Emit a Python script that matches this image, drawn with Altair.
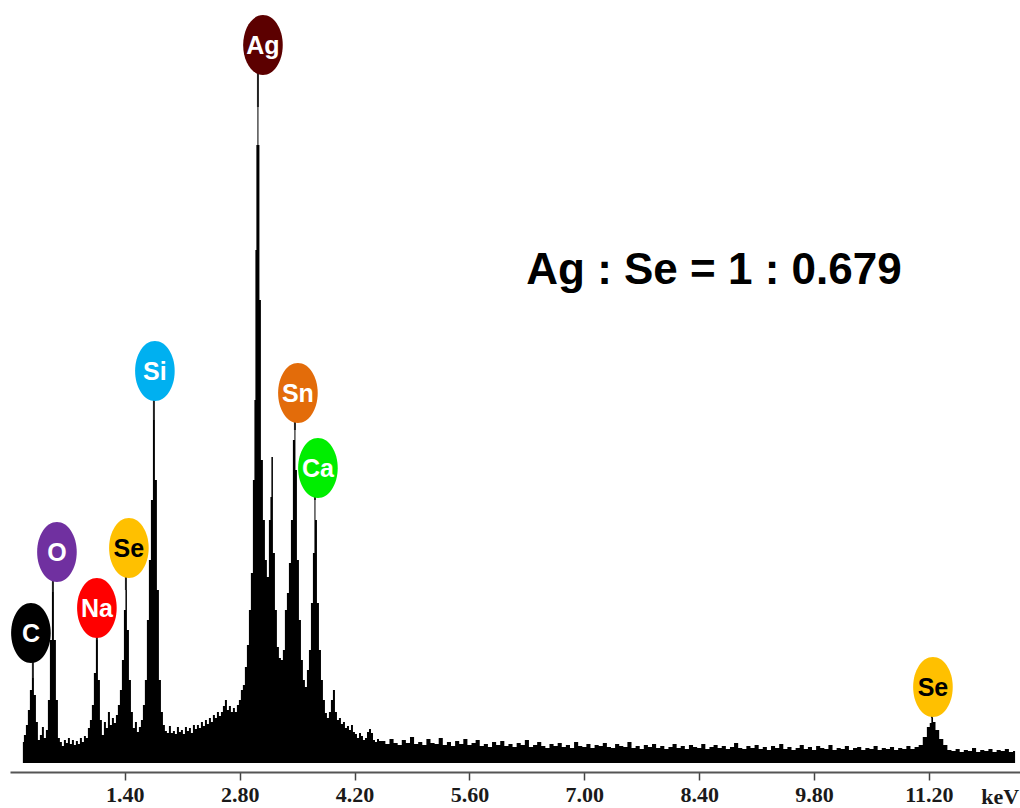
import altair as alt
import pandas as pd

# ---- spectrum: peak region (keV, counts) ----
peak_region_kev = [
    0.157, 0.182, 0.206, 0.230, 0.255, 0.279, 0.304, 0.328, 0.352, 0.377,
    0.401, 0.425, 0.450, 0.474, 0.499, 0.523, 0.547, 0.572, 0.596, 0.620,
    0.645, 0.669, 0.694, 0.718, 0.742, 0.767, 0.791, 0.815, 0.840, 0.864,
    0.889, 0.913, 0.937, 0.962, 0.986, 1.010, 1.035, 1.059, 1.084, 1.108,
    1.132, 1.157, 1.181, 1.206, 1.230, 1.254, 1.279, 1.303, 1.327, 1.352,
    1.376, 1.401, 1.413,
    1.437, 1.462, 1.486, 1.510, 1.535, 1.559, 1.583, 1.608, 1.632, 1.656,
    1.681, 1.705, 1.730, 1.754, 1.778, 1.803, 1.827, 1.852, 1.876, 1.900,
    1.925, 1.949, 1.973, 1.998, 2.022, 2.047, 2.071, 2.095, 2.120, 2.144,
    2.169, 2.193, 2.217, 2.242, 2.266, 2.290, 2.315, 2.339, 2.364, 2.388,
    2.412, 2.437, 2.461, 2.485, 2.510, 2.534, 2.559, 2.583, 2.607, 2.632,
    2.656, 2.680, 2.705, 2.729, 2.753, 2.778, 2.802, 2.826, 2.851, 2.875,
    2.900, 2.924, 2.948, 2.973,
    2.985, 2.997, 3.009, 3.022, 3.034,
    3.046, 3.070, 3.095, 3.119, 3.143, 3.168, 3.180,
    3.192, 3.217, 3.241, 3.265, 3.290, 3.314, 3.338, 3.363, 3.387, 3.412,
    3.436, 3.460, 3.473,
    3.485, 3.509, 3.534, 3.558, 3.582, 3.607, 3.631, 3.656, 3.680, 3.704,
    3.717,
    3.729, 3.753, 3.778, 3.802, 3.826, 3.851, 3.875, 3.899, 3.924, 3.948,
    3.973, 3.997, 4.021, 4.046, 4.070, 4.095, 4.119, 4.144, 4.168, 4.192,
    4.217, 4.241, 4.266, 4.290, 4.314, 4.339, 4.363, 4.388, 4.412, 4.437,
    4.461, 4.485, 4.510,
]
peak_region_counts = [
    21, 28, 38, 53, 73, 85, 68, 41, 23, 28,
    36, 25, 33, 63, 123, 171, 123, 63, 25, 21,
    17, 23, 20, 25, 19, 23, 18, 22, 19, 25,
    21, 27, 25, 35, 43, 58, 90, 123, 83, 43,
    28, 41, 35, 51, 38, 45, 40, 48, 58, 73,
    103, 153, 173,
    133, 83, 51, 35, 41, 31, 36, 43, 58, 83,
    143, 203, 263, 343, 283, 173, 83, 51, 38, 32,
    30, 37, 30, 32, 29, 36, 31, 33, 29, 36,
    32, 35, 30, 38, 34, 38, 35, 41, 37, 43,
    39, 45, 41, 48, 45, 51, 47, 51, 57, 63,
    53, 57, 51, 55, 51, 58, 63, 73, 78, 96,
    118, 153, 190, 283,
    363, 513, 618, 656, 618,
    463, 303, 243, 203, 186, 243, 266,
    306, 210, 153, 116, 105, 103, 113, 153, 170, 200,
    243, 323, 333,
    293, 203, 143, 103, 83, 76, 93, 113, 160, 210,
    263,
    243, 160, 113, 83, 63, 50, 45, 51, 63, 73,
    51, 43, 45, 39, 41, 35, 37, 33, 38, 31,
    29, 25, 30, 27, 23, 25, 31, 34, 30, 23,
    21, 24, 22,
]

# ---- spectrum: high-energy background and Se K peak ----
tail_kev = [
    4.55, 4.60, 4.65, 4.70, 4.75, 4.80, 4.85, 4.90, 4.95, 5.00,
    5.05, 5.10, 5.15, 5.20, 5.25, 5.30, 5.35, 5.40, 5.45, 5.50,
    5.55, 5.60, 5.65, 5.70, 5.75, 5.80, 5.85, 5.90, 5.95, 6.00,
    6.05, 6.10, 6.15, 6.20, 6.25, 6.30, 6.35, 6.40, 6.45, 6.50,
    6.55, 6.60, 6.65, 6.70, 6.75, 6.80, 6.85, 6.90, 6.95, 7.00,
    7.05, 7.10, 7.15, 7.20, 7.25, 7.30, 7.35, 7.40, 7.45, 7.50,
    7.55, 7.60, 7.65, 7.70, 7.75, 7.80, 7.85, 7.90, 7.95, 8.00,
    8.05, 8.10, 8.15, 8.20, 8.25, 8.30, 8.35, 8.40, 8.45, 8.50,
    8.55, 8.60, 8.65, 8.70, 8.75, 8.80, 8.85, 8.90, 8.95, 9.00,
    9.05, 9.10, 9.15, 9.20, 9.25, 9.30, 9.35, 9.40, 9.45, 9.50,
    9.55, 9.60, 9.65, 9.70, 9.75, 9.80, 9.85, 9.90, 9.95, 10.00,
    10.05, 10.10, 10.15, 10.20, 10.25, 10.30, 10.35, 10.40, 10.45, 10.50,
    10.55, 10.60, 10.65, 10.70, 10.75, 10.80, 10.85, 10.90, 10.95, 11.00,
    11.05, 11.10, 11.15, 11.20, 11.22, 11.24, 11.26, 11.30, 11.35, 11.40,
    11.45, 11.50, 11.55, 11.60, 11.65, 11.70, 11.75, 11.80, 11.85, 11.90,
    11.95, 12.00, 12.05, 12.10, 12.15, 12.20, 12.25,
]
tail_counts = [
    22, 19, 24, 20, 18, 23, 20, 26, 19, 21,
    18, 24, 20, 19, 25, 18, 21, 17, 22, 19,
    24, 18, 20, 23, 17, 19, 16, 21, 18, 22,
    17, 19, 16, 20, 18, 23, 16, 18, 21, 17,
    15, 19, 17, 20, 16, 18, 15, 21, 17, 16,
    19, 15, 18, 17, 20, 16, 15, 19, 17, 16,
    21, 15, 17, 14, 18, 16, 19, 15, 17, 14,
    16, 19, 15, 17, 14, 18, 16, 15, 19, 14,
    16, 18, 15, 17, 14, 16, 20, 15, 14, 17,
    15, 18, 14, 16, 13, 17, 15, 19, 14, 16,
    13, 15, 18, 14, 16, 13, 17, 15, 14, 18,
    13, 15, 14, 17, 13, 15, 16, 13, 15, 14,
    17, 13, 15, 14, 16, 13, 15, 14, 17, 14,
    16, 18, 26, 36, 40, 45, 41, 33, 24, 18,
    13, 12, 14, 11, 13, 12, 15, 11, 13, 12,
    14, 11, 13, 12, 14, 11, 12,
]

# ---- element labels ----
label_text = ["C", "O", "Na", "Se", "Si", "Ag", "Sn", "Ca", "Se"]
peak_kev = [0.279, 0.523, 1.059, 1.413, 1.754, 3.022, 3.473, 3.717, 11.237]
peak_counts = [85, 171, 123, 173, 343, 656, 333, 263, 45]
label_kev = [0.255, 0.572, 1.059, 1.449, 1.766, 3.083, 3.509, 3.753, 11.249]
label_counts = [130, 211, 155, 215, 392, 718, 370, 295, 76]
fill_colors = ["#000000", "#7030A0", "#FF0000", "#FFC000", "#00B0F0",
               "#5C0000", "#E36C0A", "#00EE00", "#FFC000"]
text_colors = ["#FFFFFF", "#FFFFFF", "#FFFFFF", "#000000", "#FFFFFF",
               "#FFFFFF", "#FFFFFF", "#FFFFFF", "#000000"]

tick_values = [1.40, 2.80, 4.20, 5.60, 7.00, 8.40, 9.80, 11.20]
ratio_text = "Ag : Se = 1 : 0.679"
ratio_kev = 8.58
ratio_count = 492
unit_text = "keV"
unit_kev = 12.07

X_MAX = 12.31
Y_MAX = 763

spec = pd.DataFrame({
    "keV": peak_region_kev + tail_kev,
    "counts": peak_region_counts + tail_counts,
})
labels = pd.DataFrame({
    "el": label_text, "pk": peak_kev, "pc": peak_counts,
    "lk": label_kev, "lc": label_counts,
    "fill": fill_colors, "tc": text_colors,
})

xscale = alt.Scale(domain=[0, X_MAX], nice=False, zero=False)
yscale = alt.Scale(domain=[0, Y_MAX], nice=False)

xaxis = alt.Axis(
    values=tick_values, format=".2f", offset=9, title=None, grid=False,
    domainColor="#555555", domainWidth=2, tickColor="#444444", tickWidth=1.5,
    tickSize=8, labelFont="Liberation Serif", labelFontWeight="bold",
    labelFontSize=22, labelColor="#1a1a1a", labelPadding=4, labelFlush=False,
)

area = alt.Chart(spec).mark_area(interpolate="step", color="#000000").encode(
    x=alt.X("keV:Q", scale=xscale, axis=xaxis),
    y=alt.Y("counts:Q", scale=yscale, axis=None),
)

stems = alt.Chart(labels).mark_rule(color="#222222", strokeWidth=2).encode(
    x=alt.X("pk:Q", scale=xscale),
    y=alt.Y("pc:Q", scale=yscale),
    y2="lc:Q",
)

ellipse_path = "M -0.66 0 A 0.66 1 0 1 1 0.66 0 A 0.66 1 0 1 1 -0.66 0 Z"
ellipses = alt.Chart(labels).mark_point(
    shape=ellipse_path, size=3600, filled=True, opacity=1, strokeWidth=0
).encode(
    x=alt.X("lk:Q", scale=xscale),
    y=alt.Y("lc:Q", scale=yscale),
    color=alt.Color("fill:N", scale=None),
)

el_text = alt.Chart(labels).mark_text(
    font="Liberation Sans", fontWeight="bold",
    fontSize=25, baseline="middle", align="center", dy=1,
).encode(
    x=alt.X("lk:Q", scale=xscale),
    y=alt.Y("lc:Q", scale=yscale),
    text="el:N",
    color=alt.Color("tc:N", scale=None),
)

ratio = alt.Chart(pd.DataFrame({"t": [ratio_text], "x": [ratio_kev], "y": [ratio_count]})).mark_text(
    font="Liberation Sans", fontWeight="bold",
    fontSize=44, baseline="middle", align="center", color="#000000",
).encode(
    x=alt.X("x:Q", scale=xscale),
    y=alt.Y("y:Q", scale=yscale),
    text="t:N",
)

unit = alt.Chart(pd.DataFrame({"t": [unit_text], "x": [unit_kev]})).mark_text(
    font="Liberation Serif", fontWeight="bold", fontSize=22,
    baseline="middle", align="center", color="#1a1a1a",
).encode(
    x=alt.X("x:Q", scale=xscale),
    y=alt.value(797),
    text="t:N",
)

chart = alt.layer(area, stems, ellipses, el_text, ratio, unit).properties(
    width=1010, height=763,
    autosize=alt.AutoSizeParams(type="none"),
    padding={"left": 10, "top": 0, "right": 0, "bottom": 45},
    background="white",
).configure_view(strokeWidth=0)

chart.save("out.html", embed_options={"renderer": "svg", "actions": False})
